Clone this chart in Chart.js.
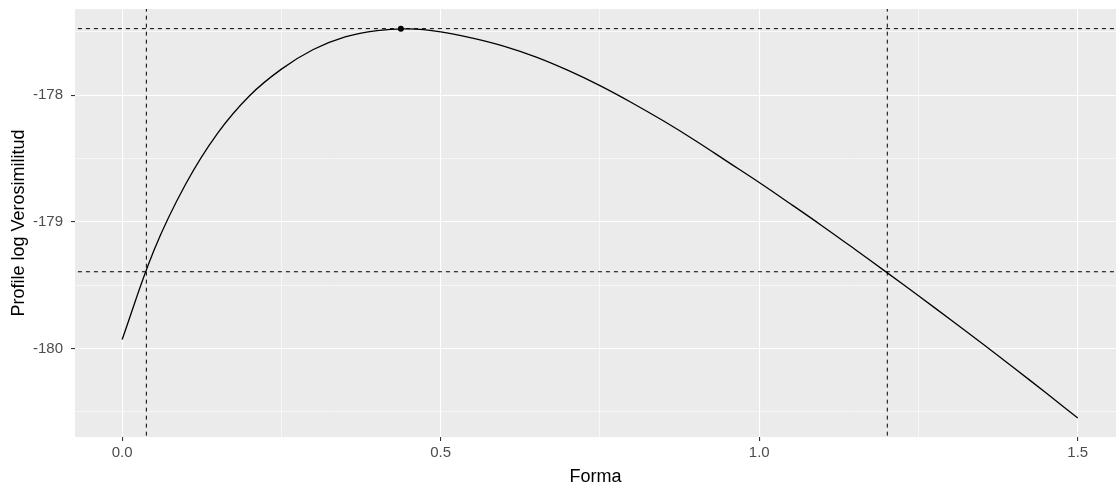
<!DOCTYPE html>
<html>
<head>
<meta charset="utf-8">
<script src="https://cdn.jsdelivr.net/npm/chart.js@4/dist/chart.umd.min.js"></script>
<style>
  html, body { margin: 0; padding: 0; background: #fff; }
  #wrap { width: 1116px; height: 489px; }
</style>
</head>
<body>
<div id="wrap"><canvas id="profileChart" width="1116" height="489"></canvas></div>
<script>
// valores
const forma = [0, 0.05, 0.10, 0.15, 0.20, 0.25, 0.30, 0.35, 0.40, 0.45, 0.50, 0.55, 0.60, 0.65, 0.70,
  0.75, 0.80, 0.85, 0.90, 0.95, 1.00, 1.05, 1.10, 1.15, 1.20, 1.25, 1.30, 1.35, 1.40, 1.45, 1.50];
const logVero = [-179.93, -179.225, -178.70, -178.30, -178.005, -177.795, -177.64, -177.54, -177.49,
  -177.477, -177.50, -177.55, -177.615, -177.70, -177.805, -177.925, -178.06, -178.205, -178.36, -178.525,
  -178.69, -178.862, -179.037, -179.217, -179.40, -179.585, -179.772, -179.962, -180.155, -180.351, -180.55];

const mle = { x: 0.4375, y: -177.475 };
const ciLimits = [0.038, 1.201];
const hLevels = [-177.475, -179.395];

const xTicks = [0, 0.25, 0.5, 0.75, 1.0, 1.25, 1.5];
const xLabels = ['0.0', '', '0.5', '', '1.0', '', '1.5'];
const yTicks = [-180.5, -180, -179.5, -179, -178.5, -178, -177.5];
const yLabels = ['', '-180', '', '-179', '', '-178', ''];

const xRange = [-0.074, 1.56];
const yRange = [-180.70, -177.32];

const isMajor = (labels, ticks, v) => labels[ticks.indexOf(v)] !== '';

const panelBg = {
  id: 'panelBg',
  beforeDraw(chart) {
    const { ctx, chartArea: a } = chart;
    ctx.save();
    ctx.fillStyle = '#EBEBEB';
    ctx.fillRect(a.left, a.top, a.right - a.left, a.bottom - a.top);
    ctx.restore();
  }
};

const dashed = { borderColor: '#000', borderWidth: 1, borderDash: [4, 4], pointRadius: 0, fill: false };

const datasets = [
  {
    type: 'line',
    data: forma.map((x, i) => ({ x: x, y: logVero[i] })),
    borderColor: '#000',
    borderWidth: 1.3,
    pointRadius: 0,
    tension: 0.4,
    fill: false
  }
];
ciLimits.forEach(v => datasets.push(Object.assign({ type: 'line', data: [{ x: v, y: yRange[0] - 1 }, { x: v, y: yRange[1] + 1 }] }, dashed)));
hLevels.forEach(v => datasets.push(Object.assign({ type: 'line', data: [{ x: xRange[0] - 1, y: v }, { x: xRange[1] + 1, y: v }] }, dashed)));
datasets.push({
  type: 'scatter',
  data: [mle],
  backgroundColor: '#000',
  borderColor: '#000',
  pointRadius: 3,
  borderWidth: 0
});

new Chart(document.getElementById('profileChart').getContext('2d'), {
  data: { datasets: datasets },
  options: {
    responsive: false,
    animation: false,
    devicePixelRatio: 1,
    layout: { autoPadding: false, padding: { top: 9, right: 0, left: 0, bottom: 0 } },
    plugins: { legend: { display: false }, tooltip: { enabled: false } },
    scales: {
      x: {
        type: 'linear',
        min: xRange[0],
        max: xRange[1],
        afterBuildTicks: s => { s.ticks = xTicks.map(v => ({ value: v })); },
        afterFit: s => { s.height = 52; s.paddingLeft = 0; s.paddingRight = 0; },
        border: { display: false },
        grid: {
          color: '#FFFFFF',
          lineWidth: c => isMajor(xLabels, xTicks, c.tick.value) ? 1.1 : 0.6,
          tickColor: c => isMajor(xLabels, xTicks, c.tick.value) ? '#333333' : 'rgba(0,0,0,0)',
          tickLength: 4
        },
        ticks: {
          color: '#4D4D4D',
          font: { family: 'Liberation Sans, Arial, sans-serif', size: 15 },
          padding: 3,
          maxRotation: 0,
          autoSkip: false,
          callback: v => xLabels[xTicks.indexOf(v)]
        },
        title: {
          display: true,
          text: 'Forma',
          color: '#000',
          font: { family: 'Liberation Sans, Arial, sans-serif', size: 18 },
          padding: { top: 0, bottom: 1 }
        }
      },
      y: {
        type: 'linear',
        min: yRange[0],
        max: yRange[1],
        afterBuildTicks: s => { s.ticks = yTicks.map(v => ({ value: v })); },
        afterFit: s => { s.width = 75; s.paddingTop = 0; s.paddingBottom = 0; },
        border: { display: false },
        grid: {
          color: '#FFFFFF',
          lineWidth: c => isMajor(yLabels, yTicks, c.tick.value) ? 1.1 : 0.6,
          tickColor: c => isMajor(yLabels, yTicks, c.tick.value) ? '#333333' : 'rgba(0,0,0,0)',
          tickLength: 4
        },
        ticks: {
          color: '#4D4D4D',
          font: { family: 'Liberation Sans, Arial, sans-serif', size: 15 },
          padding: 8,
          autoSkip: false,
          callback: v => yLabels[yTicks.indexOf(v)]
        },
        title: {
          display: true,
          text: 'Profile log Verosimilitud',
          color: '#000',
          font: { family: 'Liberation Sans, Arial, sans-serif', size: 18 },
          padding: { top: 8, bottom: 0 }
        }
      }
    }
  },
  plugins: [panelBg]
});
</script>
</body>
</html>
